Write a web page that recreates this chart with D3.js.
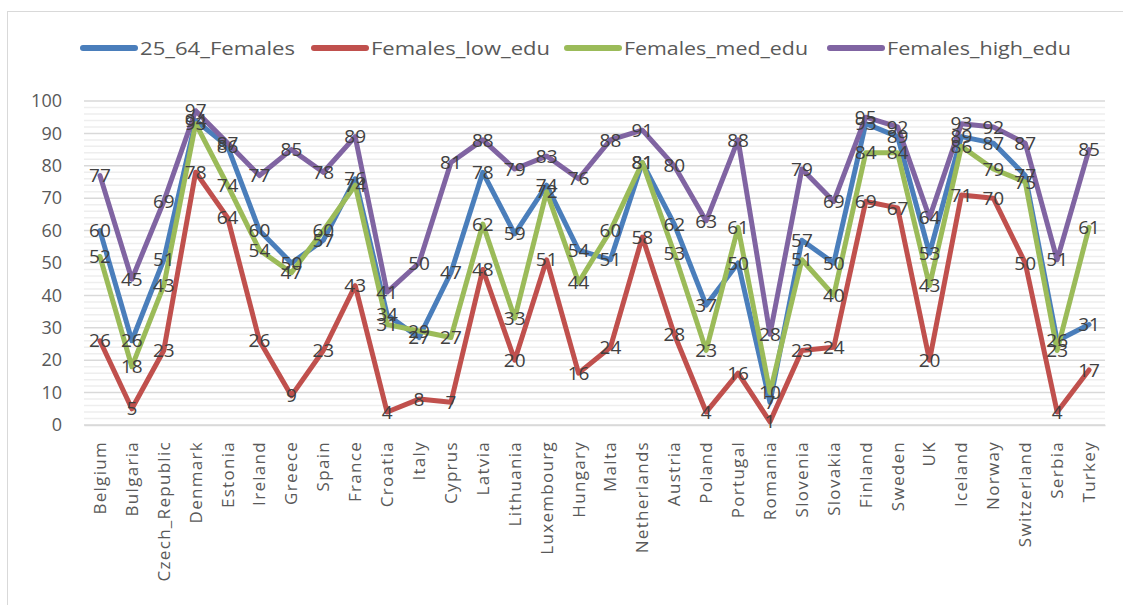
<!DOCTYPE html>
<html>
<head>
<meta charset="utf-8">
<script src="https://cdn.jsdelivr.net/npm/d3@7"></script>
<style>
  body { margin: 0; background: #fff; }
  svg text { font-family: "Open Sans", "Liberation Sans", sans-serif; }
</style>
</head>
<body>
<div id="chart"></div>
<script>
// data
const countries = ["Belgium", "Bulgaria", "Czech_Republic", "Denmark", "Estonia", "Ireland", "Greece", "Spain",
    "France", "Croatia", "Italy", "Cyprus", "Latvia", "Lithuania", "Luxembourg", "Hungary", "Malta",
    "Netherlands", "Austria", "Poland", "Portugal", "Romania", "Slovenia", "Slovakia", "Finland", "Sweden",
    "UK", "Iceland", "Norway", "Switzerland", "Serbia", "Turkey"];
const females2564 = [60, 26, 51, 94, 86, 60, 50, 57, 76, 34, 27, 47, 78, 59, 74, 54, 51, 81, 62, 37, 50, 7, 57, 50, 93, 89, 53, 89, 87, 77, 26, 31];
const femalesLow  = [26, 5, 23, 78, 64, 26, 9, 23, 43, 4, 8, 7, 48, 20, 51, 16, 24, 58, 28, 4, 16, 1, 23, 24, 69, 67, 20, 71, 70, 50, 4, 17];
const femalesMed  = [52, 18, 43, 93, 74, 54, 47, 60, 74, 31, 29, 27, 62, 33, 72, 44, 60, 81, 53, 23, 61, 10, 51, 40, 84, 84, 43, 86, 79, 75, 23, 61];
const femalesHigh = [77, 45, 69, 97, 87, 77, 85, 78, 89, 41, 50, 81, 88, 79, 83, 76, 88, 91, 80, 63, 88, 28, 79, 69, 95, 92, 64, 93, 92, 87, 51, 85];
const seriesNames = ["25_64_Females", "Females_low_edu", "Females_med_edu", "Females_high_edu"];
const yTicks = [0, 10, 20, 30, 40, 50, 60, 70, 80, 90, 100];

const colors = ["#4A7EBB", "#C0504D", "#9BBB59", "#8064A2"];
const series = [females2564, femalesLow, femalesMed, femalesHigh].map((vals, i) => ({
    name: seriesNames[i], color: colors[i], values: vals
}));

const W = 1123, H = 605;
const margin = {top: 101, right: 18, bottom: 180, left: 84};

const svg = d3.select("#chart").append("svg")
    .attr("width", W)
    .attr("height", H);

// chart frame
svg.append("rect")
    .attr("x", 7.5).attr("y", 11.5)
    .attr("width", 1130).attr("height", 610)
    .attr("fill", "none")
    .attr("stroke", "#d9d9d9");

const x = d3.scaleBand()
    .domain(countries)
    .range([margin.left, W - margin.right]);

const y = d3.scaleLinear()
    .domain([0, 100])
    .range([425, margin.top]);

// minor gridlines every 2
const g = svg.append("g");
g.selectAll("line.minor")
    .data(d3.range(0, 101, 2).filter(v => v % 10 !== 0))
    .enter().append("line")
    .attr("class", "minor")
    .attr("x1", margin.left).attr("x2", W - margin.right)
    .attr("y1", d => y(d)).attr("y2", d => y(d))
    .attr("stroke", "#eeeeee")
    .attr("stroke-width", 1.5);

g.selectAll("line.major")
    .data(yTicks)
    .enter().append("line")
    .attr("class", "major")
    .attr("x1", margin.left).attr("x2", W - margin.right)
    .attr("y1", d => y(d)).attr("y2", d => y(d))
    .attr("stroke", "#d9d9d9")
    .attr("stroke-width", 1.5);

// y axis labels
const yAxis = d3.axisLeft(y).tickValues(yTicks).tickSize(0).tickPadding(0);
svg.append("g")
    .attr("class", "y-axis")
    .attr("transform", "translate(62,0)")
    .call(yAxis)
    .call(a => a.select(".domain").remove())
    .selectAll("text")
    .style("font-size", "18px")
    .style("fill", "#595959");

// x axis labels
const xAxis = d3.axisBottom(x).tickSize(0).tickPadding(0);
svg.append("g")
    .attr("class", "x-axis")
    .attr("transform", "translate(0,425)")
    .call(xAxis)
    .call(a => a.select(".domain").attr("stroke", "#d9d9d9").attr("stroke-width", 1.5))
    .selectAll("text")
    .attr("transform", "rotate(-90)")
    .attr("x", -16)
    .attr("y", 0)
    .attr("dy", "0.35em")
    .style("text-anchor", "end")
    .style("font-size", "17px")
    .style("letter-spacing", "1.3px")
    .style("fill", "#595959");

// lines
const line = d3.line()
    .x((d, i) => x(countries[i]) + x.bandwidth() / 2)
    .y(d => y(d));

svg.selectAll("path.series")
    .data(series)
    .enter().append("path")
    .attr("class", "series")
    .attr("d", d => line(d.values))
    .attr("fill", "none")
    .attr("stroke", d => d.color)
    .attr("stroke-width", 5)
    .attr("stroke-linejoin", "round")
    .attr("stroke-linecap", "round");

// data labels centred on points
series.forEach(s => {
    svg.append("g").selectAll("text")
        .data(s.values)
        .enter().append("text")
        .attr("x", (d, i) => x(countries[i]) + x.bandwidth() / 2)
        .attr("y", d => y(d))
        .attr("dy", "0.35em")
        .attr("text-anchor", "middle")
        .style("font-size", "19px")
        .style("fill", "#404040")
        .text(d => d);
});

// legend
const legendX = [80, 311, 564, 827];
const legendW = [155, 179, 184, 184];
const legend = svg.append("g").attr("class", "legend");
series.forEach((s, i) => {
    legend.append("line")
        .attr("x1", legendX[i] + 3).attr("x2", legendX[i] + 55)
        .attr("y1", 48).attr("y2", 48)
        .attr("stroke", s.color)
        .attr("stroke-width", 6)
        .attr("stroke-linecap", "round");
    legend.append("text")
        .attr("x", legendX[i] + 60)
        .attr("y", 48)
        .attr("dy", "0.35em")
        .attr("textLength", legendW[i])
        .attr("lengthAdjust", "spacingAndGlyphs")
        .style("font-size", "19px")
        .style("fill", "#595959")
        .text(s.name);
});
</script>
</body>
</html>
